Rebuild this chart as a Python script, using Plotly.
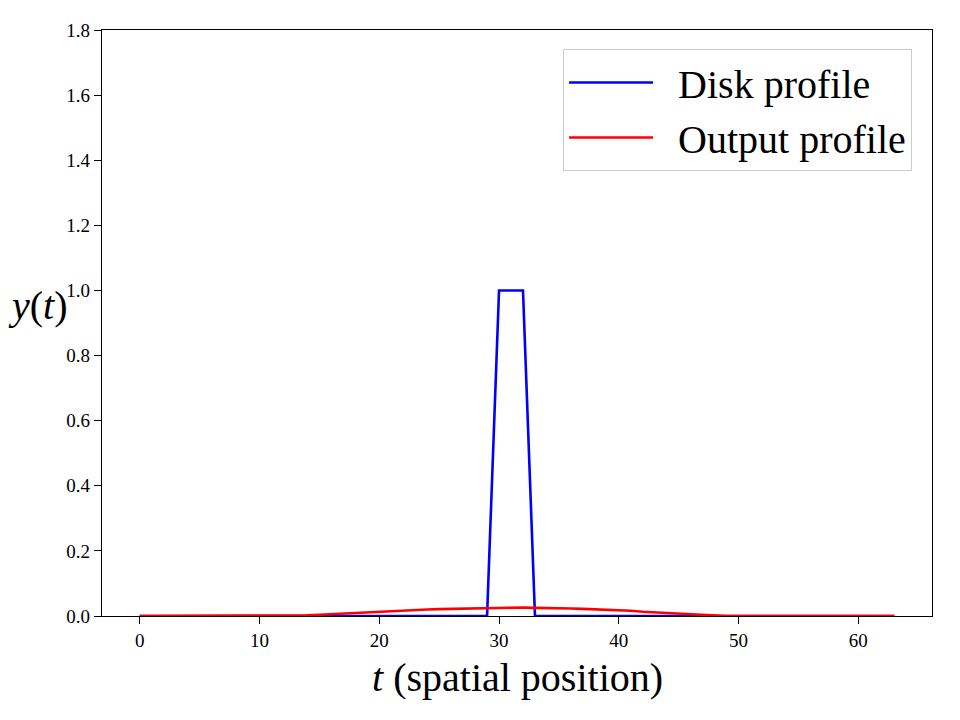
import plotly.graph_objects as go

t = list(range(64))
disk = [0.0] * 64
for i in (30, 31, 32):
    disk[i] = 1.0

output_nonzero = {
    14: 0.002, 15: 0.004, 16: 0.006, 17: 0.008, 18: 0.010, 19: 0.012,
    20: 0.014, 21: 0.016, 22: 0.017, 23: 0.019, 24: 0.020, 25: 0.021,
    26: 0.022, 27: 0.023, 28: 0.024, 29: 0.025, 30: 0.025, 31: 0.026,
    32: 0.026, 33: 0.025, 34: 0.025, 35: 0.024, 36: 0.023, 37: 0.022,
    38: 0.021, 39: 0.019, 40: 0.018, 41: 0.016, 42: 0.013, 43: 0.011,
    44: 0.008, 45: 0.006, 46: 0.004, 47: 0.002, 48: 0.001,
}
output = [output_nonzero.get(i, 0.0) for i in t]

x_ticks = [0, 10, 20, 30, 40, 50, 60]
y_ticks = [0.0, 0.2, 0.4, 0.6, 0.8, 1.0, 1.2, 1.4, 1.6, 1.8]
series_names = ["Disk profile", "Output profile"]

FONT = "Liberation Serif"
PAD = "\u00a0\u00a0"

fig = go.Figure()
fig.add_trace(go.Scatter(x=t, y=disk, mode="lines", name=PAD + series_names[0],
                         line=dict(color="#0000ff", width=2.6)))
fig.add_trace(go.Scatter(x=t, y=output, mode="lines", name=PAD + series_names[1],
                         line=dict(color="#ff0000", width=2.6)))

axis_common = dict(showline=True, linecolor="black", linewidth=1.4, mirror=True,
                   ticks="outside", ticklen=7, tickwidth=1.4, tickcolor="black",
                   showgrid=False, zeroline=False,
                   tickfont=dict(family=FONT, size=19, color="black"))

fig.update_xaxes(range=[-3.15, 66.15], tickvals=x_ticks, **axis_common)
fig.update_yaxes(range=[0, 1.8], tickvals=y_ticks, tickformat=".1f", **axis_common)

fig.update_layout(
    width=960, height=720,
    margin=dict(l=102, r=28, t=30, b=104),
    plot_bgcolor="white", paper_bgcolor="white",
    font=dict(family=FONT, color="black"),
    legend=dict(x=0.976, y=0.9676, xanchor="right", yanchor="top",
                bgcolor="rgba(255,255,255,0.8)", bordercolor="#cccccc", borderwidth=1,
                font=dict(family=FONT, size=40, color="black"),
                itemwidth=84, tracegroupgap=0),
    annotations=[
        dict(text="<i>t</i> (spatial position)", xref="paper", yref="paper",
             x=0.5, y=-0.1058, xanchor="center", yanchor="middle", showarrow=False,
             font=dict(family=FONT, size=40, color="black")),
        dict(text="<i>y</i>(<i>t</i>)", xref="paper", yref="paper",
             x=-0.0771, y=0.5307, xanchor="center", yanchor="middle", showarrow=False,
             font=dict(family=FONT, size=40, color="black")),
    ],
)

fig.write_html("out.html")
